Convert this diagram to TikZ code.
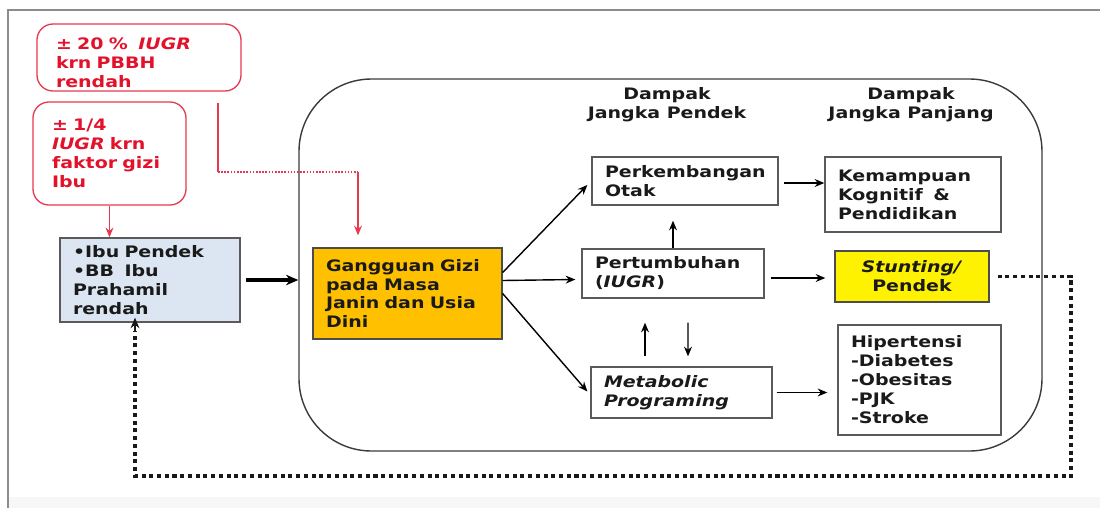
\documentclass[tikz,border=0pt]{standalone}
\usepackage{fontspec}
\newfontfamily\df{DejaVu Sans}[FakeStretch=1.2]
\usetikzlibrary{calc,arrows.meta}
\definecolor{redl}{HTML}{E8384F}
\definecolor{redt}{HTML}{E3122B}
\definecolor{boxc}{HTML}{5A5A5A}
\definecolor{bigc}{HTML}{3A3A3A}
\definecolor{gold}{HTML}{FFC000}
\definecolor{bluel}{HTML}{DCE6F2}
\definecolor{txtc}{HTML}{1A1A1A}
\tikzset{
  bx/.style 2 args={draw=boxc, line width=0.75pt, text=txtc,
    minimum width=#1*0.02cm, minimum height=#2*0.02cm,
    text width=(#1-26)*0.02cm, inner xsep=0.26cm, inner ysep=0pt, align=left},
  rbx/.style 2 args={draw=redl, line width=0.75pt, text=redt, rounded corners=0.32cm,
    minimum width=#1*0.02cm, minimum height=#2*0.02cm,
    text width=(#1-38)*0.02cm, inner xsep=0.38cm, inner ysep=0pt, align=left},
  arr/.style={draw=black, line width=0.8pt, -{Stealth[length=5.5pt,width=4.5pt]}},
  redarr/.style={draw=redl, line width=0.8pt, -{Stealth[length=5.5pt,width=4.5pt]}},
  loopline/.style={draw=black!90, line width=2pt, dash pattern=on 2.3pt off 2.1pt},
}
\begin{document}
\begin{tikzpicture}[x=0.02cm, y=-0.02cm, font=\df\bfseries\fontsize{9}{10.8}\selectfont]
\useasboundingbox (0,0) rectangle (1100,508);
% frame
\fill[black!3] (8,497) rectangle (1100,508);
\draw[black!45, line width=0.9pt] (8,508) -- (8,10) -- (1100,10);

% big rounded container
\node[draw=bigc, line width=0.8pt, rounded corners=1.45cm,
      minimum width=743*0.02cm, minimum height=372*0.02cm, inner sep=0pt] (big) at (670.5,265) {};

% headers
\node[align=center, text=txtc] (h1) at (667,105) {Dampak\\Jangka~Pendek};
\node[align=center, text=txtc] (h2) at (911,105) {Dampak\\Jangka~Panjang};

% red notes
\node[rbx={204}{67}] (r1) at (139,57.5) {\rule{0pt}{12.5pt}±~20~\%~~\textit{IUGR}\\krn~PBBH\\rendah};
\node[rbx={153}{103}] (r2) at (109.5,153.5) {±~1/4\\\textit{IUGR}~krn\\faktor~gizi\\Ibu};

% boxes
\node[bx={180}{84}, fill=bluel] (blue) at (150,280) {•Ibu~Pendek\\•BB~~Ibu\\Prahamil\\rendah};
\node[bx={189}{91}, fill=gold, draw=black!70] (gang) at (407.5,293.5) {Gangguan~Gizi\\pada~Masa\\Janin~dan~Usia\\Dini};
\node[bx={186}{48}] (perk) at (685,181) {Perkembangan\\Otak};
\node[bx={176}{75}] (kem) at (913,194.5) {Kemampuan\\Kognitif~~\&\\Pendidikan};
\node[bx={182}{49}] (pert) at (673,273.5) {Pertumbuhan\\(\textit{IUGR})};
\node[bx={154}{51}, fill=yellow, align=center, draw=black!70] (stunt) at (912,276.5) {\textit{Stunting/}\\Pendek};
\node[bx={181}{51}] (meta) at (681.5,392.5) {\textit{Metabolic}\\\textit{Programing}};
\node[bx={163}{110}] (hip) at (919.5,380) {Hipertensi\\-Diabetes\\-Obesitas\\-PJK\\-Stroke};

% loop coordinates
\coordinate (loopR) at (1071,476);
\coordinate (loopL) at (135,476);
\coordinate (rc1) at (218,103);
\coordinate (rc2) at (218,172);
\coordinate (rc3) at (358,172);

% connectors
\draw[arr] ($(gang.east)+(0,-21)$) -- ($(perk.west)+(-4,4)$);
\draw[arr] ($(gang.east)+(0,-13)$) -- ($(pert.west)+(-6,6)$);
\draw[arr] (gang.east) -- ($(meta.west)+(-3,-1)$);
\draw[arr] ($(perk.east)+(5,2)$) -- ($(kem.west)+(0,-11.5)$);
\draw[arr, shorten >=15*0.02cm] (pert.north) -- (perk.south -| pert.north);
\draw[arr] ($(pert.east)+(6,4.5)$) -- ($(stunt.west)+(-9,1.5)$);
\draw[arr] ($(meta.north)+(-36.5,-10)$) -- ($(pert.south)+(-28,24)$);
\draw[arr] ($(pert.south)+(15,24)$) -- ($(meta.north)+(6.5,-10)$);
\draw[arr] ($(meta.east)+(4,0)$) -- ($(hip.west |- meta.east)+(-10,0)$);
\draw[line width=2.2pt, -{Stealth[length=7pt,width=6pt]}] ($(blue.east)+(5,0)$) -- (big.west |- blue.east);

% red connectors
\draw[redarr] (r2.south) -- (r2.south |- blue.north);
\draw[redl, line width=0.7pt] (rc1) -- (rc2);
\draw[redl, line width=0.9pt, dash pattern=on 0.9pt off 0.9pt] (rc2) -- (rc3);
\draw[redarr] (rc3) -- ($(rc3 |- gang.north)+(0,-12)$);

% dotted feedback loop
\draw[loopline] ($(stunt.east)+(8,0)$) -- (stunt.east -| loopR) -- (loopR) -- (loopL) -- ($(blue.south -| loopL)+(0,8)$);
\draw[black!90, line width=1.6pt, -{Stealth[length=6pt,width=5pt]}] ($(blue.south -| loopL)+(0,9)$) -- ($(blue.south -| loopL)+(0,-5)$);
\end{tikzpicture}
\end{document}
